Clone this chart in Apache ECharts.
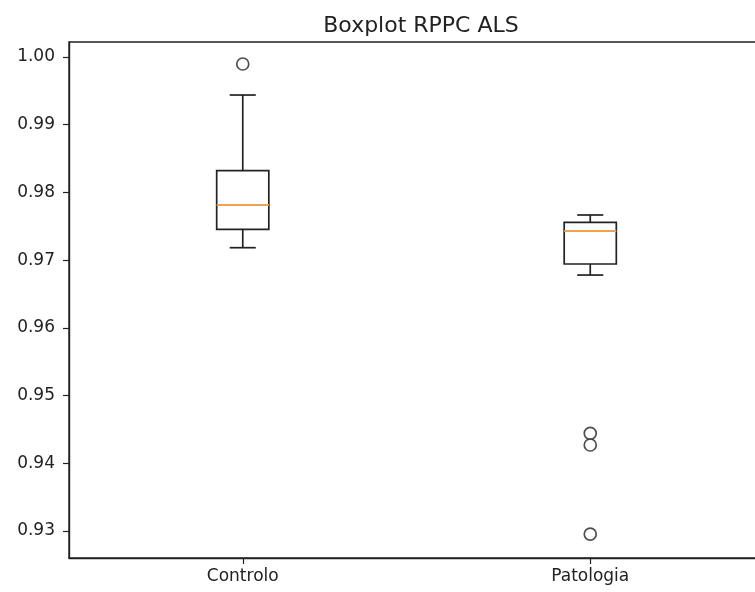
<!DOCTYPE html>
<html>
<head>
<meta charset="utf-8">
<script src="https://cdn.jsdelivr.net/npm/echarts@6/dist/echarts.min.js"></script>
<style>html,body{margin:0;padding:0;background:#fff;}#c{width:755px;height:592px;}</style>
</head>
<body>
<div id="c"></div>
<script>
const categories = ['Controlo', 'Patologia'];
const whiskerLow = [0.97184, 0.96780];
const q1 = [0.97455, 0.96943];
const medians = [0.97814, 0.97430];
const q3 = [0.98321, 0.97559];
const whiskerHigh = [0.99439, 0.97667];
const outliers = [[0, 0.99897], [1, 0.94443], [1, 0.94270], [1, 0.92955]];
const yTicks = [0.93, 0.94, 0.95, 0.96, 0.97, 0.98, 0.99, 1.00];

const boxData = categories.map((c, i) => [i, whiskerLow[i], q1[i], medians[i], q3[i], whiskerHigh[i]]);
const FONT = 'DejaVu Sans';
const INK = '#222';

const chart = echarts.init(document.getElementById('c'), null, {renderer: 'canvas'});
chart.setOption({
  animation: false,
  backgroundColor: '#fff',
  title: {
    text: 'Boxplot RPPC ALS', left: 416, top: 10, textAlign: 'center',
    textStyle: {fontFamily: FONT, fontSize: 22, fontWeight: 'normal', color: INK}
  },
  grid: {left: 69, top: 42, width: 695, height: 516, show: true, borderColor: INK, borderWidth: 1.4,
    backgroundColor: 'transparent', outerBoundsMode: 'none', containLabel: false},
  xAxis: {
    type: 'category', data: categories, boundaryGap: true,
    axisLine: {show: true, lineStyle: {color: INK, width: 1.4}},
    axisTick: {show: true, alignWithLabel: true, length: 6, lineStyle: {color: INK, width: 1.2}},
    axisLabel: {fontFamily: FONT, fontSize: 17, color: INK, margin: 10},
    splitLine: {show: false}
  },
  yAxis: {
    type: 'value', min: 0.92601, max: 1.00222,
    axisLine: {show: true, lineStyle: {color: INK, width: 1.4}},
    axisTick: {show: true, length: 6, customValues: yTicks, lineStyle: {color: INK, width: 1.2}},
    axisLabel: {fontFamily: FONT, fontSize: 17, color: INK, margin: 14, customValues: yTicks,
      formatter: v => v.toFixed(2)},
    splitLine: {show: false}
  },
  series: [
    {
      type: 'custom',
      data: boxData,
      renderItem: function (params, api) {
        const x = api.value(0);
        const band = api.size([1, 0])[0];
        const bw = band * 0.15;
        const cw = bw / 2;
        const pLo = api.coord([x, api.value(1)]);
        const pQ1 = api.coord([x, api.value(2)]);
        const pMed = api.coord([x, api.value(3)]);
        const pQ3 = api.coord([x, api.value(4)]);
        const pHi = api.coord([x, api.value(5)]);
        const cx = pQ1[0];
        const ls = {stroke: INK, lineWidth: 1.7, fill: null};
        return {
          type: 'group',
          children: [
            {type: 'rect', shape: {x: cx - bw / 2, y: pQ3[1], width: bw, height: pQ1[1] - pQ3[1]}, style: {stroke: INK, lineWidth: 1.7, fill: 'none'}},
            {type: 'line', shape: {x1: cx, y1: pQ1[1], x2: cx, y2: pLo[1]}, style: ls},
            {type: 'line', shape: {x1: cx, y1: pQ3[1], x2: cx, y2: pHi[1]}, style: ls},
            {type: 'line', shape: {x1: cx - cw / 2, y1: pLo[1], x2: cx + cw / 2, y2: pLo[1]}, style: ls},
            {type: 'line', shape: {x1: cx - cw / 2, y1: pHi[1], x2: cx + cw / 2, y2: pHi[1]}, style: ls},
            {type: 'line', shape: {x1: cx - bw / 2, y1: pMed[1], x2: cx + bw / 2, y2: pMed[1]}, style: {stroke: '#f5a04d', lineWidth: 2}}
          ]
        };
      }
    },
    {
      type: 'scatter',
      data: outliers,
      symbol: 'circle',
      symbolSize: 12,
      itemStyle: {color: '#fff', borderColor: INK, borderWidth: 1.7}
    }
  ]
});
</script>
</body>
</html>
